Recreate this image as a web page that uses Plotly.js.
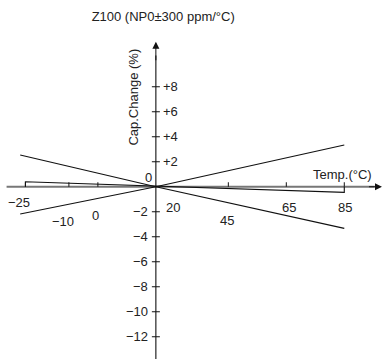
<!DOCTYPE html>
<html>
<head>
<meta charset="utf-8">
<script src="https://cdn.plot.ly/plotly-3.0.1.min.js"></script>
<style>html,body{margin:0;padding:0;background:#fff;}#chart{width:384px;height:359px;}</style>
</head>
<body>
<div id="chart"></div>
<script>
// ---- data ----
const chartTitle = 'Z100 (NP0±300 ppm/°C)';
const lineTemps = [-26.8, 20, 85];
const upperToLower = [2.54, 0, -3.33];   // + coefficient side at low temp
const lowerToUpper = [-2.18, 0, 3.34];
const nominalTemps = [-25, -25, 85, 85];
const nominalVals = [0, 0.4, -0.45, 0];
const xTickVals = [-25, -10, 0, 20, 45, 65, 85];
const xTickText = ['\u221225', '\u221210', '0', '20', '45', '65', '85'];
const yTickValsPos = [2, 4, 6, 8];
const yTickTextPos = ['+2', '+4', '+6', '+8'];
const yTickValsNeg = [-2, -4, -6, -8, -10, -12];
const yTickTextNeg = ['\u22122', '\u22124', '\u22126', '\u22128', '\u221210', '\u221212'];
const originTemp = 20;
const xAxisLabel = 'Temp.(°C)';
const yAxisLabel = 'Cap.Change (%)';

// ---- layout/style ----
const FONT = '"Liberation Sans", Arial, Helvetica, sans-serif';
const TXT = '#222';
const xLabelShift = [[-6, -16], [-6, -35], [-2, -29], [17, -21], [-1, -34], [3, -21], [1, -21]];
const xRange = [-33.77, 98.7];
const yRange = [-13.78, 14.94];

const lineStyle = {color: '#111', width: 1.2};
const traces = [
  {x: lineTemps, y: upperToLower, mode: 'lines', line: lineStyle, hoverinfo: 'skip', showlegend: false},
  {x: lineTemps, y: lowerToUpper, mode: 'lines', line: lineStyle, hoverinfo: 'skip', showlegend: false},
  {x: nominalTemps, y: nominalVals, mode: 'lines', line: {color: '#111', width: 1.1}, hoverinfo: 'skip', showlegend: false}
];

const shapes = [];
// horizontal axis (gray)
shapes.push({type: 'line', xref: 'x', yref: 'y', x0: -31.5, x1: 95.5, y0: 0, y1: 0, line: {color: '#777', width: 2}, layer: 'below'});
// vertical axis
shapes.push({type: 'line', xref: 'x', yref: 'y', x0: originTemp, x1: originTemp, y0: yRange[0] - 1, y1: 10.5, line: {color: '#111', width: 1.1}});
// x ticks (upward)
xTickVals.forEach(v => {
  if (v === originTemp) return;
  shapes.push({type: 'line', xref: 'x', yref: 'y', ysizemode: 'pixel', yanchor: 0, x0: v, x1: v, y0: 0, y1: 4.5, line: {color: '#111', width: 1}});
});
// y ticks (crossing)
yTickValsPos.concat(yTickValsNeg).forEach(v => {
  shapes.push({type: 'line', xref: 'x', yref: 'y', xsizemode: 'pixel', xanchor: originTemp, x0: -4, x1: 4, y0: v, y1: v, line: {color: '#111', width: 1}});
});

const annotations = [];
const f = {family: FONT, size: 13, color: TXT};
xTickVals.forEach((v, i) => {
  annotations.push({x: v, y: 0, xref: 'x', yref: 'y', text: xTickText[i], showarrow: false, font: f,
    xanchor: 'center', yanchor: 'middle', xshift: xLabelShift[i][0], yshift: xLabelShift[i][1]});
});
yTickValsPos.forEach((v, i) => {
  annotations.push({x: originTemp, y: v, xref: 'x', yref: 'y', text: yTickTextPos[i], showarrow: false, font: f,
    xanchor: 'left', yanchor: 'middle', xshift: 5});
});
yTickValsNeg.forEach((v, i) => {
  annotations.push({x: originTemp, y: v, xref: 'x', yref: 'y', text: yTickTextNeg[i], showarrow: false, font: f,
    xanchor: 'right', yanchor: 'middle', xshift: -6});
});
annotations.push({x: originTemp, y: 0, xref: 'x', yref: 'y', text: '0', showarrow: false, font: f,
  xanchor: 'center', yanchor: 'middle', xshift: -7, yshift: 9});
annotations.push({x: 85, y: 0, xref: 'x', yref: 'y', text: xAxisLabel, showarrow: false, font: f,
  xanchor: 'center', yanchor: 'middle', xshift: -2, yshift: 12});
annotations.push({x: originTemp, y: 7.2, xref: 'x', yref: 'y', text: yAxisLabel, showarrow: false, font: f,
  textangle: -90, xanchor: 'center', yanchor: 'middle', xshift: -22});
// arrow heads
annotations.push({x: 98, y: 0, ax: 93, ay: 0, xref: 'x', yref: 'y', axref: 'x', ayref: 'y', text: '', showarrow: true,
  arrowhead: 2, arrowsize: 1.4, arrowwidth: 1, arrowcolor: '#111', standoff: 0});
annotations.push({x: originTemp, y: 11.6, ax: originTemp, ay: 10, xref: 'x', yref: 'y', axref: 'x', ayref: 'y', text: '', showarrow: true,
  arrowhead: 2, arrowsize: 1.4, arrowwidth: 1, arrowcolor: '#111', standoff: 0});

const layout = {
  width: 384, height: 359, autosize: false,
  margin: {l: 0, r: 0, t: 0, b: 0, pad: 0},
  paper_bgcolor: '#fff', plot_bgcolor: '#fff',
  title: {text: chartTitle, font: {family: FONT, size: 13, color: TXT}, x: 0.425, xanchor: 'center', y: 0.955, yanchor: 'middle', xref: 'paper', yref: 'container'},
  xaxis: {range: xRange, visible: false, fixedrange: true},
  yaxis: {range: yRange, visible: false, fixedrange: true},
  shapes: shapes,
  annotations: annotations,
  showlegend: false
};
Plotly.newPlot('chart', traces, layout, {staticPlot: true, displayModeBar: false});
</script>
</body>
</html>
